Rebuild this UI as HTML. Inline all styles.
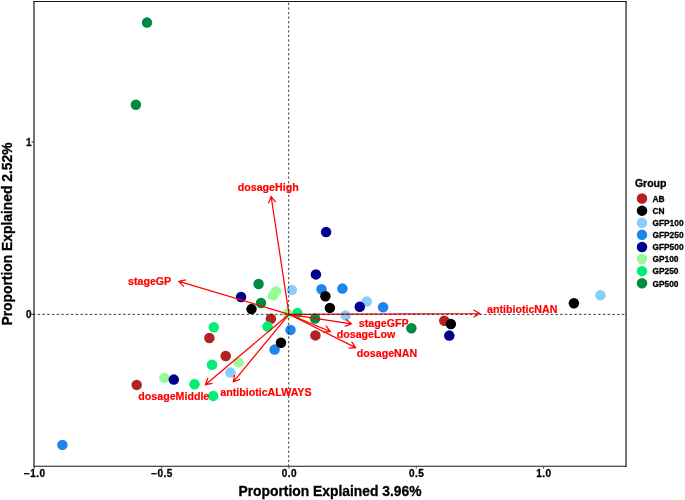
<!DOCTYPE html>
<html><head><meta charset="utf-8"><title>Plot</title>
<style>html,body{margin:0;padding:0;background:#fff}svg text{font-family:"Liberation Sans",Arial,sans-serif}.k{stroke:#000;stroke-width:0.3px;stroke-linejoin:round}.r{stroke:#f00;stroke-width:0.2px;stroke-linejoin:round}</style></head>
<body>
<svg width="685" height="500" viewBox="0 0 685 500" style="display:block">
<rect x="0" y="0" width="685" height="500" fill="#fff"/>
<circle cx="321.5" cy="289.2" r="5.25" fill="#1C86EE"/>
<circle cx="342.4" cy="288.6" r="5.25" fill="#1C86EE"/>
<circle cx="383.1" cy="307.2" r="5.25" fill="#1C86EE"/>
<circle cx="290.5" cy="329.9" r="5.25" fill="#1C86EE"/>
<circle cx="274.6" cy="349.6" r="5.25" fill="#1C86EE"/>
<circle cx="62.4" cy="444.9" r="5.25" fill="#1C86EE"/>
<circle cx="366.7" cy="301.6" r="5.25" fill="#87CEFA"/>
<circle cx="345.6" cy="315.4" r="5.25" fill="#87CEFA"/>
<circle cx="291.9" cy="290.1" r="5.25" fill="#87CEFA"/>
<circle cx="230.4" cy="372.6" r="5.25" fill="#87CEFA"/>
<circle cx="600.4" cy="295.2" r="5.25" fill="#87CEFA"/>
<circle cx="275.95" cy="291.4" r="5.25" fill="#98FB98"/>
<circle cx="273.05" cy="295.4" r="5.25" fill="#98FB98"/>
<circle cx="287.4" cy="313.6" r="5.25" fill="#98FB98"/>
<circle cx="238.6" cy="362.4" r="5.25" fill="#98FB98"/>
<circle cx="164.4" cy="377.9" r="5.25" fill="#98FB98"/>
<circle cx="270.9" cy="318.7" r="5.25" fill="#B22222"/>
<circle cx="209.4" cy="338" r="5.25" fill="#B22222"/>
<circle cx="315.4" cy="335.4" r="5.25" fill="#B22222"/>
<circle cx="225.7" cy="356" r="5.25" fill="#B22222"/>
<circle cx="136.7" cy="384.9" r="5.25" fill="#B22222"/>
<circle cx="444.3" cy="320.8" r="5.25" fill="#B22222"/>
<circle cx="325.4" cy="296.3" r="5.25" fill="#000000"/>
<circle cx="329.9" cy="307.9" r="5.25" fill="#000000"/>
<circle cx="251.5" cy="309.1" r="5.25" fill="#000000"/>
<circle cx="281" cy="342.7" r="5.25" fill="#000000"/>
<circle cx="450.9" cy="324.1" r="5.25" fill="#000000"/>
<circle cx="573.9" cy="303.3" r="5.25" fill="#000000"/>
<circle cx="326.1" cy="232.1" r="5.25" fill="#00008B"/>
<circle cx="315.9" cy="274.4" r="5.25" fill="#00008B"/>
<circle cx="359.8" cy="306.8" r="5.25" fill="#00008B"/>
<circle cx="241.1" cy="297" r="5.25" fill="#00008B"/>
<circle cx="173.8" cy="379.6" r="5.25" fill="#00008B"/>
<circle cx="449.3" cy="335.6" r="5.25" fill="#00008B"/>
<circle cx="297.4" cy="313.1" r="5.25" fill="#00EE76"/>
<circle cx="213.8" cy="327.3" r="5.25" fill="#00EE76"/>
<circle cx="267.6" cy="326.5" r="5.25" fill="#00EE76"/>
<circle cx="212" cy="364.7" r="5.25" fill="#00EE76"/>
<circle cx="194.5" cy="384.3" r="5.25" fill="#00EE76"/>
<circle cx="213.2" cy="395.9" r="5.25" fill="#00EE76"/>
<circle cx="258.6" cy="284" r="5.25" fill="#008B45"/>
<circle cx="261" cy="303" r="5.25" fill="#008B45"/>
<circle cx="315.1" cy="318.5" r="5.25" fill="#008B45"/>
<circle cx="411.4" cy="328.2" r="5.25" fill="#008B45"/>
<circle cx="147" cy="22.6" r="5.25" fill="#008B45"/>
<circle cx="135.9" cy="104.8" r="5.25" fill="#008B45"/>
<path d="M289.0 314.3L271.13493587384465 196.4898271236312M275.63 202.11L271.13493587384465 196.4898271236312L268.51 203.19" fill="none" stroke="#FF0000" stroke-width="1.25" stroke-linejoin="miter"/>
<path d="M289.0 314.3L178.86247018427636 281.45718705495085M185.87 279.79L178.86247018427636 281.45718705495085L183.81 286.69" fill="none" stroke="#FF0000" stroke-width="1.25" stroke-linejoin="miter"/>
<path d="M289.0 314.3L205.38837772543135 384.72022753848603M207.84 377.95L205.38837772543135 384.72022753848603L212.48 383.46" fill="none" stroke="#FF0000" stroke-width="1.25" stroke-linejoin="miter"/>
<path d="M289.0 314.3L233.3723506830532 381.80543920668634M234.56 374.70L233.3723506830532 381.80543920668634L240.12 379.28" fill="none" stroke="#FF0000" stroke-width="1.25" stroke-linejoin="miter"/>
<path d="M289.0 314.3L479.80000600012124 313.6032863630669M473.58 317.23L479.80000600012124 313.6032863630669L473.55 310.03" fill="none" stroke="#FF0000" stroke-width="1.25" stroke-linejoin="miter"/>
<path d="M289.0 314.3L351.4101749830646 323.7650502343984M344.71 326.39L351.4101749830646 323.7650502343984L345.79 319.27" fill="none" stroke="#FF0000" stroke-width="1.25" stroke-linejoin="miter"/>
<path d="M289.0 314.3L330.26893905056545 331.4545471112802M323.13 332.39L330.26893905056545 331.4545471112802L325.89 325.74" fill="none" stroke="#FF0000" stroke-width="1.25" stroke-linejoin="miter"/>
<path d="M289.0 314.3L355.5950155281001 347.59750776405M348.41 348.03L355.5950155281001 347.59750776405L351.63 341.59" fill="none" stroke="#FF0000" stroke-width="1.25" stroke-linejoin="miter"/>
<line x1="32.85" y1="314.40000000000003" x2="626.05" y2="314.40000000000003" stroke="#1c1c1c" stroke-width="0.85" stroke-dasharray="2.5 2.25"/>
<line x1="288.7" y1="2.75" x2="288.7" y2="466.3" stroke="#1c1c1c" stroke-width="0.85" stroke-dasharray="2.35 2.22"/>
<text x="268.2" y="190.7" text-anchor="middle" font-size="10.65" font-weight="bold" fill="#FF0000" class="r">dosageHigh</text>
<text x="149.6" y="284.7" text-anchor="middle" font-size="10.65" font-weight="bold" fill="#FF0000" class="r">stageGP</text>
<text x="173.8" y="400" text-anchor="middle" font-size="10.65" font-weight="bold" fill="#FF0000" class="r">dosageMiddle</text>
<text x="220.3" y="396.3" text-anchor="start" font-size="10.65" font-weight="bold" fill="#FF0000" class="r">antibioticALWAYS</text>
<text x="522.2" y="313" text-anchor="middle" font-size="10.65" font-weight="bold" fill="#FF0000" class="r">antibioticNAN</text>
<text x="383.7" y="327.0" text-anchor="middle" font-size="10.65" font-weight="bold" fill="#FF0000" class="r">stageGFP</text>
<text x="366.0" y="338" text-anchor="middle" font-size="10.65" font-weight="bold" fill="#FF0000" class="r">dosageLow</text>
<text x="387.0" y="357" text-anchor="middle" font-size="10.65" font-weight="bold" fill="#FF0000" class="r">dosageNAN</text>
<path d="M34.0 0.8999999999999999V466.8M626.05 0.8999999999999999V466.8" fill="none" stroke="#222" stroke-width="1.25"/><path d="M33.4 1.4H626.65M33.4 466.3H626.65" fill="none" stroke="#1a1a1a" stroke-width="1.05"/>
<line x1="34.400000000000006" y1="466.3" x2="34.400000000000006" y2="468.5" stroke="#333" stroke-width="0.9"/>
<text x="34.75000000000001" y="476.6" text-anchor="middle" font-size="10" font-weight="bold" letter-spacing="0.45" fill="#000" class="k">−1.0</text>
<line x1="161.7" y1="466.3" x2="161.7" y2="468.5" stroke="#333" stroke-width="0.9"/>
<text x="162.04999999999998" y="476.6" text-anchor="middle" font-size="10" font-weight="bold" letter-spacing="0.45" fill="#000" class="k">−0.5</text>
<line x1="289.0" y1="466.3" x2="289.0" y2="468.5" stroke="#333" stroke-width="0.9"/>
<text x="289.35" y="476.6" text-anchor="middle" font-size="10" font-weight="bold" letter-spacing="0.45" fill="#000" class="k">0.0</text>
<line x1="416.3" y1="466.3" x2="416.3" y2="468.5" stroke="#333" stroke-width="0.9"/>
<text x="416.65000000000003" y="476.6" text-anchor="middle" font-size="10" font-weight="bold" letter-spacing="0.45" fill="#000" class="k">0.5</text>
<line x1="543.6" y1="466.3" x2="543.6" y2="468.5" stroke="#333" stroke-width="0.9"/>
<text x="543.95" y="476.6" text-anchor="middle" font-size="10" font-weight="bold" letter-spacing="0.45" fill="#000" class="k">1.0</text>
<line x1="31.5" y1="314.3" x2="34.0" y2="314.3" stroke="#333" stroke-width="1"/>
<text x="31.6" y="317.90000000000003" text-anchor="end" font-size="10" font-weight="bold" fill="#000" class="k">0</text>
<line x1="31.5" y1="142.0" x2="34.0" y2="142.0" stroke="#333" stroke-width="1"/>
<text x="31.6" y="145.6" text-anchor="end" font-size="10" font-weight="bold" fill="#000" class="k">1</text>
<text x="330" y="496.4" text-anchor="middle" font-size="13.85" font-weight="bold" fill="#000" class="k">Proportion Explained 3.96%</text>
<text transform="translate(12,234) scale(1.07,1) rotate(-90)" text-anchor="middle" font-size="13.85" font-weight="bold" fill="#000" class="k">Proportion Explained 2.52%</text>
<text x="634.95" y="186.6" font-size="10.5" font-weight="bold" fill="#000" class="k">Group</text>
<circle cx="642.0" cy="198.55" r="5.25" fill="#B22222"/>
<text x="652.4" y="202" font-size="8.4" font-weight="bold" fill="#000" class="k">AB</text>
<circle cx="642.0" cy="210.65" r="5.25" fill="#000000"/>
<text x="652.4" y="214" font-size="8.4" font-weight="bold" fill="#000" class="k">CN</text>
<circle cx="642.0" cy="222.75" r="5.25" fill="#87CEFA"/>
<text x="652.4" y="226" font-size="8.4" font-weight="bold" fill="#000" class="k">GFP100</text>
<circle cx="642.0" cy="234.85" r="5.25" fill="#1C86EE"/>
<text x="652.4" y="238" font-size="8.4" font-weight="bold" fill="#000" class="k">GFP250</text>
<circle cx="642.0" cy="246.95" r="5.25" fill="#00008B"/>
<text x="652.4" y="250" font-size="8.4" font-weight="bold" fill="#000" class="k">GFP500</text>
<circle cx="642.0" cy="259.05" r="5.25" fill="#98FB98"/>
<text x="652.4" y="262" font-size="8.4" font-weight="bold" fill="#000" class="k">GP100</text>
<circle cx="642.0" cy="271.15" r="5.25" fill="#00EE76"/>
<text x="652.4" y="274" font-size="8.4" font-weight="bold" fill="#000" class="k">GP250</text>
<circle cx="642.0" cy="283.25" r="5.25" fill="#008B45"/>
<text x="652.4" y="287" font-size="8.4" font-weight="bold" fill="#000" class="k">GP500</text>
</svg>
</body></html>
